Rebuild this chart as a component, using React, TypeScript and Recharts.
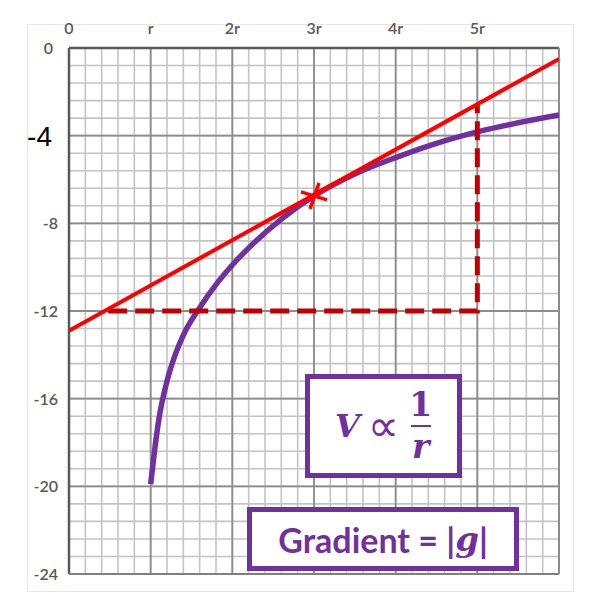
import React from 'react';
import { ComposedChart, Line, Scatter, XAxis, YAxis, ReferenceLine } from 'recharts';

// potential curve V ∝ 1/r
const curveR = [1.0, 1.05, 1.1, 1.2, 1.3, 1.4, 1.6, 1.83, 2.0, 2.22, 2.62, 3.0, 3.5, 4.0, 4.5, 5.0, 6.0];
const curveV = [-19.9, -18.3, -16.95, -15.2, -14.0, -13.1, -11.85, -10.65, -9.9, -9.05, -7.75, -6.75, -5.75, -5.0, -4.35, -3.83, -3.06];

// tangent at 3r
const tangentR = [0, 6];
const tangentV = [-12.9, -0.5];

// dashed rise/run guide
const guideR = [0.48, 5, 5];
const guideV = [-12, -12, -2.55];

const markR = [3];
const markV = [-6.75];

const xTicks = [0, 1, 2, 3, 4, 5, 6];
const xTickLabels = ['0', 'r', '2r', '3r', '4r', '5r', ''];
const yTicks = [0, -4, -8, -12, -16, -20, -24];

const minorX = Array.from({ length: 31 }, (_, i) => +(i * 0.2).toFixed(2));
const minorY = Array.from({ length: 31 }, (_, i) => +(-i * 0.8).toFixed(2));

const zip = (rs: number[], vs: number[]) => rs.map((r, i) => ({ r, v: vs[i] }));

const purple = '#7030a0';
const tickFont = 'Lato, "Open Sans", sans-serif';

function XTick(props: any) {
  const { x, payload } = props;
  const i = xTicks.indexOf(payload.value);
  return (
    <text x={x} y={34} textAnchor="middle" fill="#595959" fontSize={16} fontWeight={600} fontFamily={tickFont}>
      {xTickLabels[i]}
    </text>
  );
}

function YTick(props: any) {
  const { y, payload } = props;
  if (payload.value === -4) {
    return (
      <text x={52} y={y + 10} textAnchor="end" fill="#000" fontSize={28} fontFamily="'Liberation Sans', Arial, sans-serif">
        -4
      </text>
    );
  }
  return (
    <text x={payload.value === 0 ? 53 : 58} y={y + 6} textAnchor="end" fill="#595959" fontSize={16} fontWeight={600} fontFamily={tickFont}>
      {payload.value}
    </text>
  );
}

function CrossMark(props: any) {
  const { cx, cy } = props;
  return (
    <g stroke="#ff0000" strokeWidth={3.5} strokeLinecap="butt">
      <line x1={cx - 13} y1={cy - 4} x2={cx + 13} y2={cy + 4} />
      <line x1={cx + 5} y1={cy - 13} x2={cx - 4} y2={cy + 13} />
    </g>
  );
}

export default function App() {
  return (
    <div style={{ position: 'absolute', left: 0, top: 0, width: 590, height: 610, background: '#fff' }}>
      <div
        style={{
          position: 'absolute',
          left: 27,
          top: 24,
          width: 545,
          height: 566,
          border: '1px solid #e6e6e6',
        }}
      />
      <ComposedChart width={590} height={610} margin={{ top: 18, right: 31, left: 9, bottom: 36 }} style={{ position: 'absolute', left: 0, top: 0 }}>
        <XAxis
          dataKey="r"
          type="number"
          orientation="top"
          domain={[0, 6]}
          ticks={xTicks}
          tick={<XTick />}
          axisLine={false}
          tickLine={false}
          height={30}
          allowDataOverflow
        />
        <YAxis type="number" domain={[-24, 0]} ticks={yTicks} tick={<YTick />} axisLine={false} tickLine={false} width={60} allowDataOverflow />

        {minorX.map((x) => (
          <ReferenceLine key={'mx' + x} x={x} stroke="#c4c4c4" strokeWidth={1.6} />
        ))}
        {minorY.map((y) => (
          <ReferenceLine key={'my' + y} y={y} stroke="#c4c4c4" strokeWidth={1.6} />
        ))}
        {xTicks.map((x) => (
          <ReferenceLine key={'Mx' + x} x={x} stroke="#8c8c8c" strokeWidth={1.8} />
        ))}
        {yTicks.map((y) => (
          <ReferenceLine key={'My' + y} y={y} stroke="#8c8c8c" strokeWidth={1.8} />
        ))}
        <ReferenceLine x={0} stroke="#595959" strokeWidth={2.5} />
        <ReferenceLine y={0} stroke="#595959" strokeWidth={2.5} />
        <ReferenceLine y={-24} stroke="#7f7f7f" strokeWidth={2} />
        <ReferenceLine x={6} stroke="#8c8c8c" strokeWidth={2} />

        <Line
          data={zip(curveR, curveV)}
          dataKey="v"
          type="monotone"
          stroke={purple}
          strokeWidth={5.5}
          dot={false}
          isAnimationActive={false}
        />
        <Line
          data={zip(guideR, guideV)}
          dataKey="v"
          type="linear"
          stroke="#c00000"
          strokeWidth={5}
          strokeDasharray="19 8"
          dot={false}
          isAnimationActive={false}
        />
        <Line
          data={zip(tangentR, tangentV)}
          dataKey="v"
          type="linear"
          stroke="#ff0000"
          strokeWidth={4}
          dot={false}
          isAnimationActive={false}
        />
        <Scatter data={zip(markR, markV)} dataKey="v" shape={<CrossMark />} isAnimationActive={false} />
      </ComposedChart>

      <div
        style={{
          position: 'absolute',
          left: 305,
          top: 374,
          width: 147,
          height: 94,
          border: `5px solid ${purple}`,
          background: '#fff',
          display: 'flex',
          alignItems: 'center',
          justifyContent: 'center',
          color: purple,
          fontFamily: "'DejaVu Serif', serif",
          fontWeight: 'bold',
        }}
      >
        <span style={{ fontStyle: 'italic', fontSize: 32 }}>V</span>
        <span style={{ fontSize: 44, lineHeight: '44px', margin: '0 10px 0 8px', fontWeight: 'normal', fontFamily: "'DejaVu Sans', sans-serif" }}>∝</span>
        <span style={{ display: 'inline-flex', flexDirection: 'column', alignItems: 'center', fontSize: 33, lineHeight: '34px' }}>
          <span>1</span>
          <span style={{ width: 20, borderTop: `2px solid ${purple}`, margin: '3px 0' }} />
          <span style={{ fontStyle: 'italic' }}>r</span>
        </span>
      </div>

      <div
        style={{
          position: 'absolute',
          left: 247,
          top: 507,
          width: 262,
          height: 54,
          border: `5px solid ${purple}`,
          background: '#fff',
          display: 'flex',
          alignItems: 'center',
          justifyContent: 'center',
          color: purple,
          fontFamily: tickFont,
          fontWeight: 'bold',
          fontSize: 34,
        }}
      >
        <span>Gradient = |</span>
        <span style={{ fontFamily: "'DejaVu Serif', serif", fontStyle: 'italic', fontWeight: 'bold' }}>g</span>
        <span>|</span>
      </div>
    </div>
  );
}
